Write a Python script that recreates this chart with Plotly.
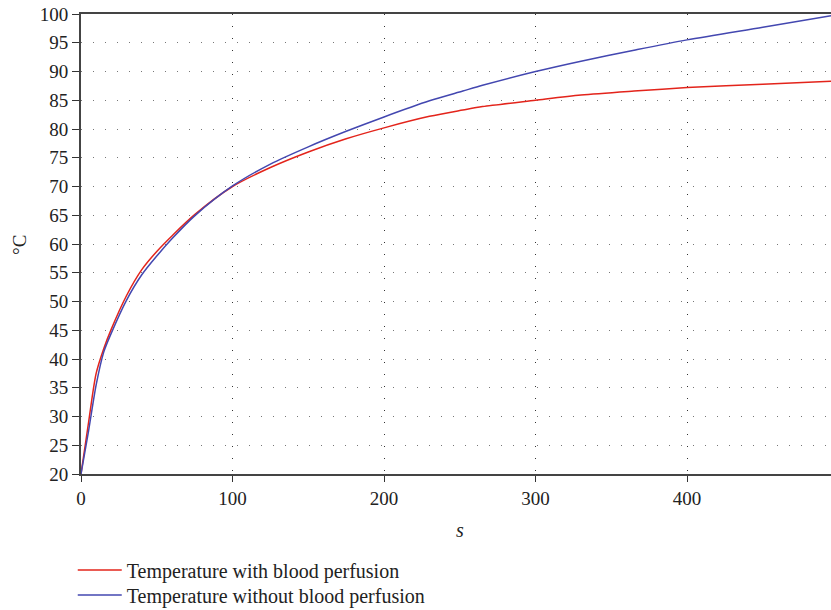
import plotly.graph_objects as go

# Data
time_s = [0, 5, 10, 15, 20, 30, 40, 50, 60, 75, 100, 125, 150, 175, 200, 230, 252, 265, 300, 330, 365, 400, 450, 495]
temp_with = [20, 29.0, 37.5, 41.8, 45.2, 51.0, 55.5, 58.7, 61.4, 65.1, 70.0, 73.3, 76.0, 78.3, 80.2, 82.2, 83.3, 83.9, 85.0, 85.9, 86.6, 87.2, 87.8, 88.3]
temp_without = [20, 27.5, 35.5, 41.2, 44.5, 50.2, 54.6, 57.9, 60.9, 64.9, 70.1, 73.9, 76.9, 79.6, 82.1, 84.9, 86.6, 87.6, 90.0, 91.8, 93.7, 95.5, 97.7, 99.7]

x_ticks = [0, 100, 200, 300, 400]
y_ticks = list(range(20, 101, 5))

FONT = "Liberation Serif"

fig = go.Figure()
fig.add_trace(go.Scatter(x=time_s, y=temp_with, mode="lines", line_shape="spline",
                         line=dict(color="#e3241b", width=1.5, smoothing=0.8),
                         name="Temperature with blood perfusion", legend="legend"))
fig.add_trace(go.Scatter(x=time_s, y=temp_without, mode="lines", line_shape="spline",
                         line=dict(color="#4347b0", width=1.5, smoothing=0.8),
                         name="Temperature without blood perfusion", legend="legend2"))

legend_style = dict(x=-0.011, xanchor="left", yanchor="top",
                    bgcolor="rgba(0,0,0,0)", font=dict(size=20, family=FONT, color="#222"),
                    itemwidth=44)

fig.update_layout(
    width=831, height=610,
    margin=dict(l=81, r=0, t=14, b=136, autoexpand=False),
    paper_bgcolor="white", plot_bgcolor="white",
    font=dict(family=FONT, size=19, color="#222"),
    showlegend=True,
    legend=dict(y=-0.1663, **legend_style),
    legend2=dict(y=-0.2207, **legend_style),
    xaxis=dict(range=[0, 495], tickvals=x_ticks, ticks="outside", ticklen=6,
               tickcolor="#333", showline=True, linecolor="#444", linewidth=2,
               mirror=True, showgrid=True, gridcolor="#333", gridwidth=1,
               griddash="1px,11px", zeroline=False, automargin=False,
               tickfont=dict(size=19, family=FONT, color="#222")),
    yaxis=dict(range=[20, 100], tickvals=y_ticks, ticks="outside", ticklen=7,
               tickcolor="#333", showline=True, linecolor="#444", linewidth=2,
               showgrid=True, gridcolor="#777", gridwidth=1,
               griddash="1px,11px", zeroline=False, automargin=False,
               tickfont=dict(size=19, family=FONT, color="#222")),
    annotations=[
        dict(text="°C", xref="paper", yref="paper", x=-0.0813, y=0.498,
             xanchor="center", yanchor="middle",
             showarrow=False, textangle=-90, font=dict(size=19, family=FONT, color="#222")),
        dict(text="<i>s</i>", xref="paper", yref="paper", x=0.505, y=-0.1217,
             xanchor="center", yanchor="middle",
             showarrow=False, font=dict(size=20, family=FONT, color="#222")),
    ],
)

fig.write_html("out.html", config={"displayModeBar": False},
               post_script="document.body.style.margin='0';document.body.style.overflow='hidden';")
